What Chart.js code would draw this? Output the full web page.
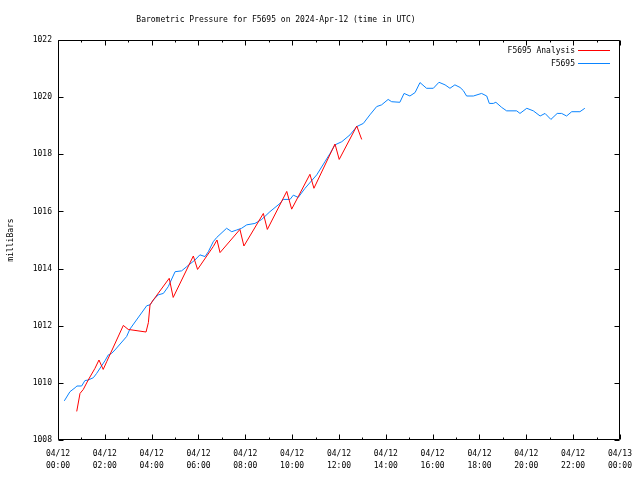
<!DOCTYPE html>
<html>
<head>
<meta charset="utf-8">
<script src="https://cdn.jsdelivr.net/npm/chart.js@4"></script>
<style>
  html, body { margin: 0; padding: 0; background: #fff; }
  canvas { display: block; }
</style>
</head>
<body>
<canvas id="grafik" width="640" height="480"></canvas>
<script>
// =================
// DATA
// =================
const chartTitle = "Barometric Pressure for F5695 on 2024-Apr-12 (time in UTC)";
const yTitle = "milliBars";

// x tick labels, one every 2 hours
const xTickDates = ["04/12", "04/12", "04/12", "04/12", "04/12", "04/12", "04/12",
                    "04/12", "04/12", "04/12", "04/12", "04/12", "04/13"];
const xTickTimes = ["00:00", "02:00", "04:00", "06:00", "08:00", "10:00", "12:00",
                    "14:00", "16:00", "18:00", "20:00", "22:00", "00:00"];

// analysis series (hours since 04/12 00:00 UTC, mbar)
const analysisLabel = "F5695 Analysis";
const analysisHours = [0.80, 0.94, 1.08, 1.29, 1.58, 1.75, 1.93, 2.08, 2.79, 3.00,
                       3.76, 3.86, 3.93, 4.07, 4.75, 4.92, 5.78, 5.96, 6.63, 6.79,
                       6.92, 7.77, 7.94, 8.77, 8.94, 9.77, 9.98, 10.76, 10.93, 11.83,
                       12.01, 12.76, 12.97];
const analysisValues = [1009.0, 1009.63, 1009.77, 1010.1, 1010.51, 1010.8, 1010.47, 1010.74, 1012.01, 1011.87,
                        1011.78, 1012.11, 1012.73, 1012.9, 1013.66, 1012.99, 1014.44, 1013.97, 1014.77, 1015.0,
                        1014.56, 1015.37, 1014.79, 1015.93, 1015.37, 1016.7, 1016.08, 1017.3, 1016.81, 1018.36,
                        1017.82, 1018.99, 1018.52];

// observed series
const obsLabel = "F5695";
const obsHours = [0.27, 0.51, 0.73, 0.81, 1.01, 1.15, 1.29, 1.51, 1.65, 2.01,
                  2.15, 2.29, 2.43, 2.93, 3.07, 3.79, 3.93, 4.07, 4.28, 4.50,
                  4.71, 5.00, 5.28, 5.50, 5.85, 6.06, 6.28, 6.42, 6.63, 6.78,
                  7.20, 7.42, 7.63, 7.84, 8.06, 8.41, 8.70, 9.05, 9.48, 9.62,
                  9.91, 10.05, 10.26, 10.55, 11.05, 11.40, 11.62, 11.83, 12.12, 12.47,
                  12.76, 13.04, 13.32, 13.61, 13.82, 14.10, 14.25, 14.60, 14.78, 15.03,
                  15.25, 15.46, 15.74, 16.03, 16.27, 16.53, 16.74, 16.95, 17.17, 17.31,
                  17.45, 17.74, 18.09, 18.31, 18.42, 18.59, 18.70, 18.95, 19.16, 19.59,
                  19.73, 20.02, 20.30, 20.59, 20.80, 21.05, 21.32, 21.51, 21.72, 21.94,
                  22.29, 22.50];
const obsValues = [1009.37, 1009.69, 1009.83, 1009.89, 1009.89, 1010.08, 1010.10, 1010.18, 1010.33, 1010.78,
                   1010.98, 1011.03, 1011.15, 1011.62, 1011.88, 1012.70, 1012.73, 1012.90, 1013.08, 1013.13,
                   1013.37, 1013.89, 1013.92, 1014.07, 1014.30, 1014.48, 1014.42, 1014.59, 1014.94, 1015.09,
                   1015.41, 1015.29, 1015.35, 1015.41, 1015.53, 1015.58, 1015.72, 1015.99, 1016.28, 1016.42,
                   1016.42, 1016.57, 1016.49, 1016.81, 1017.28, 1017.74, 1018.03, 1018.33, 1018.44, 1018.68,
                   1018.97, 1019.08, 1019.38, 1019.67, 1019.73, 1019.92, 1019.84, 1019.82, 1020.13, 1020.04,
                   1020.16, 1020.51, 1020.31, 1020.31, 1020.52, 1020.43, 1020.31, 1020.43, 1020.34, 1020.23,
                   1020.04, 1020.04, 1020.13, 1020.04, 1019.78, 1019.78, 1019.82, 1019.64, 1019.52, 1019.52,
                   1019.43, 1019.61, 1019.52, 1019.34, 1019.43, 1019.22, 1019.43, 1019.43, 1019.34, 1019.49,
                   1019.49, 1019.61];

const FONT = "'DejaVu Sans Mono', 'Liberation Mono', monospace";

function toPoints(xs, ys) {
    return xs.map((x, i) => ({ x: x, y: ys[i] }));
}

// =================
// GNUPLOT STYLE FRAME, TICKS, TITLE, LEGEND
// =================
const framePlugin = {
    id: "frame",
    afterDraw(chart) {
        const ctx = chart.ctx;
        const a = chart.chartArea;
        const xs = chart.scales.x;
        const ys = chart.scales.y;
        const L = Math.round(a.left) + 0.5, R = Math.round(a.right) - 0.5;
        const T = Math.round(a.top) + 0.5, B = Math.round(a.bottom) - 0.5;

        ctx.save();
        ctx.strokeStyle = "#000";
        ctx.lineWidth = 1;
        ctx.beginPath();
        ctx.rect(L, T, R - L, B - T);

        // x ticks: major every 2h, minor every hour, mirrored on top
        for (let h = 0; h <= 24; h++) {
            const len = h % 2 === 0 ? 5 : 2;
            const px = Math.round(xs.getPixelForValue(h)) + 0.5;
            ctx.moveTo(px, B); ctx.lineTo(px, B - len);
            ctx.moveTo(px, T); ctx.lineTo(px, T + len);
        }
        // y ticks, mirrored on right
        for (let v = 1008; v <= 1022; v += 2) {
            const py = Math.round(ys.getPixelForValue(v)) + 0.5;
            ctx.moveTo(L, py); ctx.lineTo(L + 5, py);
            ctx.moveTo(R, py); ctx.lineTo(R - 5, py);
        }
        ctx.stroke();

        // title
        ctx.fillStyle = "#000";
        ctx.font = "8px " + FONT;
        ctx.textAlign = "center";
        ctx.textBaseline = "middle";
        ctx.fillText(chartTitle, 276, 20);

        // legend: text on the left, line sample on the right
        ctx.textAlign = "right";
        chart.data.datasets.forEach((ds, i) => {
            const y = 50 + i * 13;
            ctx.fillText(ds.label, 575, y + 1);
            ctx.strokeStyle = ds.borderColor;
            ctx.beginPath();
            ctx.moveTo(578, y + 0.5);
            ctx.lineTo(610, y + 0.5);
            ctx.stroke();
        });
        ctx.restore();
    }
};

// =================
// CHART
// =================
const ctx = document.getElementById("grafik").getContext("2d");
new Chart(ctx, {
    type: "line",
    data: {
        datasets: [{
            label: analysisLabel,
            data: toPoints(analysisHours, analysisValues),
            borderColor: "#ff0000",
            borderWidth: 1,
            pointRadius: 0,
            tension: 0
        }, {
            label: obsLabel,
            data: toPoints(obsHours, obsValues),
            borderColor: "#0a84ff",
            borderWidth: 1,
            pointRadius: 0,
            tension: 0
        }]
    },
    options: {
        responsive: false,
        animation: false,
        layout: { padding: { top: 40, right: 20, left: 0, bottom: 0 } },
        plugins: {
            legend: { display: false },
            title: { display: false },
            tooltip: { enabled: false }
        },
        scales: {
            x: {
                type: "linear",
                min: 0,
                max: 24,
                grid: { display: false, drawTicks: false },
                border: { display: false },
                afterFit(scale) { scale.height = 40; },
                ticks: {
                    stepSize: 2,
                    autoSkip: false,
                    maxRotation: 0,
                    padding: 8,
                    color: "#000",
                    font: { family: FONT, size: 8, lineHeight: 1.5 },
                    callback: (v) => {
                        const i = Math.round(v / 2);
                        return [xTickDates[i], xTickTimes[i]];
                    }
                }
            },
            y: {
                min: 1008,
                max: 1022,
                grid: { display: false, drawTicks: false },
                border: { display: false },
                afterFit(scale) { scale.width = 58; },
                title: {
                    display: true,
                    text: yTitle,
                    color: "#000",
                    font: { family: FONT, size: 8 },
                    padding: { top: 6, bottom: 0 }
                },
                ticks: {
                    stepSize: 2,
                    padding: 6,
                    color: "#000",
                    font: { family: FONT, size: 8 },
                    callback: (v) => String(v)
                }
            }
        }
    },
    plugins: [framePlugin]
});
</script>
</body>
</html>
